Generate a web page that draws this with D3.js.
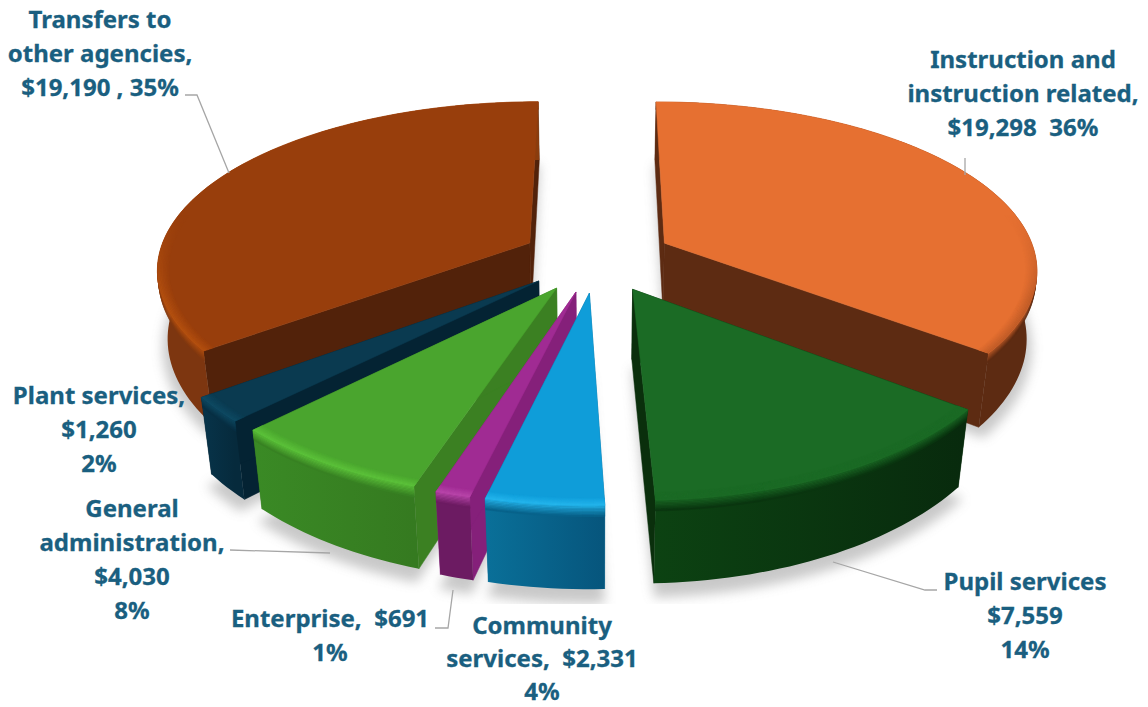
<!DOCTYPE html>
<html>
<head>
<meta charset="utf-8">
<script src="https://cdn.jsdelivr.net/npm/d3@7/dist/d3.min.js"></script>
<style>
  html, body { margin: 0; padding: 0; background: #fff; }
  svg { display: block; }
  text { font-family: "Noto Sans", "Lato", sans-serif; font-weight: 700; font-size: 24px; fill: #1a5f80; stroke: #1a5f80; stroke-width: 0.3; text-anchor: middle; }
</style>
</head>
<body>
<div id="chart"></div>
<script>
// Spending by function, in thousands of dollars
const categories = ["Instruction and instruction related", "Pupil services", "Community services", "Enterprise", "General administration", "Plant services", "Transfers to other agencies"];
const amounts = [19298, 7559, 2331, 691, 4030, 1260, 19190];
const labelLines = [
  ["Instruction and", "instruction related,", "$19,298  36%"],
  ["Pupil services", "$7,559", "14%"],
  ["Community", "services,  $2,331", "4%"],
  ["Enterprise,  $691", "1%"],
  ["General", "administration,", "$4,030", "8%"],
  ["Plant services,", "$1,260", "2%"],
  ["Transfers to", "other agencies,", "$19,190 , 35%"]
];

// Slice colours: top face, outer wall (clockwise start and end), cut faces, rim highlight
const topColors  = ["#e67031", "#1b6b25", "#0f9dd9", "#a02b93", "#4aa52e", "#0a3a50", "#983e0c"];
const wallStart  = ["#5d2b12", "#082a0d", "#06557c", "#6c1b62", "#357a20", "#062a3c", "#7d3610"];
const wallEnd    = ["#5d2b12", "#0c4212", "#0a7099", "#6c1b62", "#3a8a25", "#07344a", "#8a3c0e"];
const cutColors  = ["#5d2b12", "#0a2f0c", "#0a6a95", "#85207a", "#3b8022", "#042333", "#52220a"];
const rimColors  = ["#c05c28", "#1b6b25", "#25b5ec", "#b846aa", "#5cc23a", "#0e4a63", "#b4500f"];

// How far each slice is pulled from the pie centre
const pull = [76, 76, 76, 76, 76, 76, 76];
// Draw order, back to front
const paintOrder = [0, 6, 5, 4, 3, 2, 1];

const width = 1148, height = 707;
const cx = 597, cy = 258;
const radius = 372, depth = 68, tilt = 0.45, eyeX = 2600, eyeY = 2400, sink = 0.9;
const bevel = 11, bevelDepth = 9, bevelSteps = 8;

// Perspective view of the pie plane, z measured downward from the top face
function project(x, y, z) {
  const sx = eyeX / (eyeX - y + sink * z), sy = eyeY / (eyeY - y);
  return [cx + x * sx, cy + (y * tilt + z) * sy];
}

const pieLayout = d3.pie().sort(null).value(d => d).startAngle(0).endAngle(2 * Math.PI);
const slices = pieLayout(amounts);
const line = d3.line();

const svg = d3.select("#chart").append("svg").attr("width", width).attr("height", height);
const defs = svg.append("defs");
defs.append("filter").attr("id", "soft")
  .attr("x", "-20%").attr("y", "-20%").attr("width", "140%").attr("height", "140%")
  .append("feGaussianBlur").attr("stdDeviation", 6);

// The rounded top edge only catches the light towards the front of the pie
const rimFade = defs.append("linearGradient").attr("id", "rimFade")
  .attr("gradientUnits", "userSpaceOnUse").attr("x1", 0).attr("x2", 0).attr("y1", 215).attr("y2", 300);
rimFade.append("stop").attr("offset", 0).attr("stop-color", "#000");
rimFade.append("stop").attr("offset", 1).attr("stop-color", "#fff");
defs.append("mask").attr("id", "rimMask").attr("maskUnits", "userSpaceOnUse")
  .attr("x", 0).attr("y", 0).attr("width", width).attr("height", height)
  .append("rect").attr("width", width).attr("height", height).attr("fill", "url(#rimFade)");

function origin(d, i) {
  const mid = (d.startAngle + d.endAngle) / 2;
  return [pull[i] * Math.sin(mid), -pull[i] * Math.cos(mid)];
}
function rim(d, i, r, z) {
  const [ox, oy] = origin(d, i);
  const steps = Math.max(4, Math.ceil((d.endAngle - d.startAngle) * 40));
  return d3.range(steps + 1).map(k => {
    const a = d.startAngle + (d.endAngle - d.startAngle) * k / steps;
    return project(ox + r * Math.sin(a), oy - r * Math.cos(a), z);
  });
}
function apex(d, i, z) {
  const [ox, oy] = origin(d, i);
  return project(ox, oy, z);
}

// Ground shadow, cut off just under the pie
defs.append("clipPath").attr("id", "floor").append("rect").attr("width", width).attr("height", 604);
const shadow = svg.append("g").attr("clip-path", "url(#floor)")
  .append("g").attr("filter", "url(#soft)").attr("opacity", 0.4);
slices.forEach((d, i) => {
  shadow.append("path")
    .attr("d", line([apex(d, i, depth + 8), ...rim(d, i, radius + 6, depth + 8)]) + "Z")
    .attr("fill", "#777");
});

const pieGroup = svg.append("g");
paintOrder.forEach(i => {
  const d = slices[i];
  const g = pieGroup.append("g").attr("class", "slice");
  const topRim = rim(d, i, radius, 0), lowRim = rim(d, i, radius, depth);
  const a0 = apex(d, i, 0), a1 = apex(d, i, depth);
  const midWall = d3.interpolateRgb(wallStart[i], wallEnd[i])(0.5);

  // Cut faces
  [0, topRim.length - 1].forEach(e => {
    g.append("path")
      .attr("d", line([a0, topRim[e], lowRim[e], a1]) + "Z")
      .attr("fill", cutColors[i]).attr("stroke", cutColors[i]).attr("stroke-width", 0.5);
  });

  // Outer wall shaded along its length
  const gradId = "wall" + i;
  const grad = defs.append("linearGradient").attr("id", gradId)
    .attr("gradientUnits", "userSpaceOnUse")
    .attr("x1", topRim[0][0]).attr("y1", 0)
    .attr("x2", topRim[topRim.length - 1][0]).attr("y2", 0);
  grad.append("stop").attr("offset", 0).attr("stop-color", wallStart[i]);
  grad.append("stop").attr("offset", 1).attr("stop-color", wallEnd[i]);
  g.append("path")
    .attr("d", line([...topRim, ...lowRim.slice().reverse()]) + "Z")
    .attr("fill", `url(#${gradId})`);

  // Rounded edge below the top face: highlight fading into the wall
  const toHi = d3.interpolateRgb(topColors[i], rimColors[i]);
  const toWall = d3.interpolateRgb(rimColors[i], midWall);
  d3.range(bevelSteps).forEach(k => {
    const t = k / bevelSteps, u = (k + 1) / bevelSteps;
    const up = rim(d, i, radius, bevelDepth * t), low = rim(d, i, radius, bevelDepth * u);
    g.append("path").attr("d", line([...up, ...low.slice().reverse()]) + "Z")
      .attr("fill", toWall(u)).attr("stroke", toWall(u)).attr("stroke-width", 0.4);
  });

  // Top face
  g.append("path").attr("d", line([a0, ...topRim]) + "Z")
    .attr("fill", topColors[i]).attr("stroke", topColors[i]).attr("stroke-width", 0.5);

  // Rounded edge on the top face, from the face colour up to the highlight
  const band = g.append("g").attr("mask", "url(#rimMask)");
  d3.range(bevelSteps).forEach(k => {
    const t = k / bevelSteps, u = (k + 1) / bevelSteps;
    const inner = rim(d, i, radius - bevel * (1 - t), 0), outer = rim(d, i, radius - bevel * (1 - u), 0);
    band.append("path").attr("d", line([...inner, ...outer.slice().reverse()]) + "Z")
      .attr("fill", toHi(u)).attr("stroke", toHi(u)).attr("stroke-width", 0.4);
  });
});

// Leader lines from each label to its slice
const leaderPaths = [
  [[965, 158], [965, 175]],
  [[937, 590], [925, 590], [833, 562]],
  [],
  [[435, 628], [448, 628], [453, 590]],
  [[230, 550], [330, 553]],
  [],
  [[185, 95], [197, 95], [229, 173]]
];
svg.append("g").selectAll("path").data(leaderPaths.filter(p => p.length)).join("path")
  .attr("d", d => line(d))
  .attr("fill", "none").attr("stroke", "#a6a6a6").attr("stroke-width", 1.3);

// Labels; the community label runs slightly tighter so it stays inside the page
const labelAnchors = [[1023, 68], [1025, 590], [542, 634], [330, 627], [132, 517], [99, 404], [100, 28]];
const lineSteps = [34, 34, 33, 34, 34, 34, 34];
const labels = svg.append("g");
labelLines.forEach((lines, i) => {
  const t = labels.append("text").attr("x", labelAnchors[i][0]).attr("y", labelAnchors[i][1]);
  lines.forEach((s, j) => {
    t.append("tspan").attr("x", labelAnchors[i][0]).attr("dy", j ? lineSteps[i] : 0)
      .style("white-space", "pre").text(s);
  });
});
</script>
</body>
</html>
